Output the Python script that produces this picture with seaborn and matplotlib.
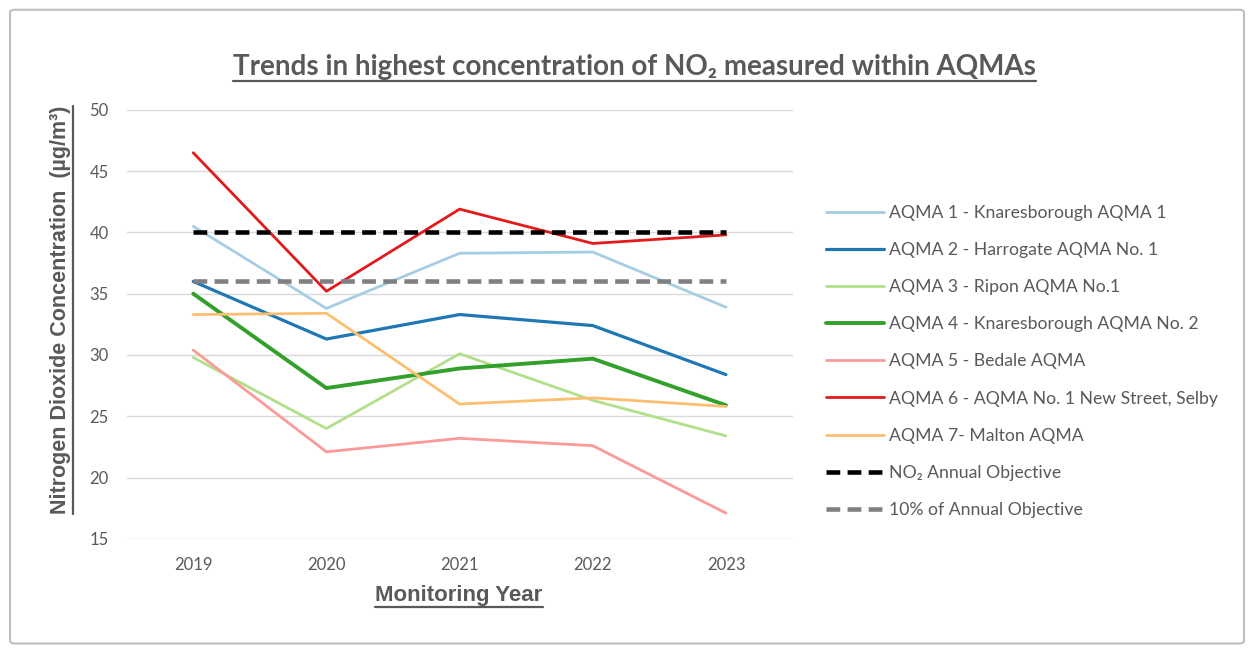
import pandas as pd
import seaborn as sns
import matplotlib.pyplot as plt
from matplotlib.lines import Line2D
from matplotlib.patches import FancyBboxPatch

# data
years = ['2019', '2020', '2021', '2022', '2023']
aqma_names = [
    'AQMA 1 - Knaresborough AQMA 1',
    'AQMA 2 - Harrogate AQMA No. 1',
    'AQMA 3 - Ripon AQMA No.1',
    'AQMA 4 - Knaresborough AQMA No. 2',
    'AQMA 5 - Bedale AQMA',
    'AQMA 6 - AQMA No. 1 New Street, Selby',
    'AQMA 7- Malton AQMA',
]
aqma1 = [40.5, 33.8, 38.3, 38.4, 33.9]
aqma2 = [36.0, 31.3, 33.3, 32.4, 28.4]
aqma3 = [29.8, 24.0, 30.1, 26.3, 23.4]
aqma4 = [35.0, 27.3, 28.9, 29.7, 25.9]
aqma5 = [30.4, 22.1, 23.2, 22.6, 17.1]
aqma6 = [46.5, 35.2, 41.9, 39.1, 39.8]
aqma7 = [33.3, 33.4, 26.0, 26.5, 25.8]
objective = [40, 40, 40, 40, 40]
objective_10 = [36, 36, 36, 36, 36]
objective_names = ['NO\u2082 Annual Objective', '10% of Annual Objective']

series = [aqma1, aqma2, aqma3, aqma4, aqma5, aqma6, aqma7]
colors = sns.color_palette('Paired', 7)
widths = [2.0, 2.3, 2.0, 2.8, 2.0, 2.0, 2.0]

sns.set_style('white')
plt.rcParams['font.family'] = ['Lato', 'DejaVu Sans']
grey = '#595959'

fig = plt.figure(figsize=(12.54, 6.5), dpi=100)
ax = fig.add_axes([0.101, 0.171, 0.531, 0.660])

for name, vals, c, w in zip(aqma_names, series, colors, widths):
    df = pd.DataFrame({'Year': years, 'Value': vals})
    sns.lineplot(data=df, x='Year', y='Value', color=c, lw=w, label=name, ax=ax)

for name, vals, c in zip(objective_names, [objective, objective_10], ['black', '#808080']):
    df = pd.DataFrame({'Year': years, 'Value': vals})
    sns.lineplot(data=df, x='Year', y='Value', color=c, lw=3.3, label=name, ax=ax,
                 dashes=False, linestyle=(0, (3, 1.6)))

ax.set_xlim(-0.5, 4.5)
ax.set_ylim(15, 50)
ax.set_yticks(range(15, 51, 5))
ax.grid(axis='y', color='#d9d9d9', lw=1)
ax.set_axisbelow(True)
for s in ax.spines.values():
    s.set_visible(False)
ax.tick_params(axis='both', length=0, labelsize=12, labelcolor=grey, pad=13)
ax.set_xlabel('')
ax.set_ylabel('')

leg = ax.legend(loc='upper left', bbox_to_anchor=(0.659, 0.685),
                bbox_transform=fig.transFigure, frameon=False, fontsize=12.7,
                handlelength=3.25, handletextpad=0.3, labelspacing=1.2,
                borderaxespad=0, borderpad=0)
for t in leg.get_texts():
    t.set_color(grey)

title = fig.text(0.506, 0.897, 'Trends in highest concentration of NO\u2082 measured within AQMAs',
                 ha='center', va='center', fontsize=20, fontweight='bold', color=grey)
ylab = fig.text(0.048, 0.523, 'Nitrogen Dioxide Concentration  (\u00b5g/m\u00b3)',
                ha='center', va='center', rotation=90, fontsize=15.5, fontweight='bold',
                color=grey, family=['Liberation Sans', 'DejaVu Sans'])
xlab = fig.text(0.366, 0.084, 'Monitoring Year', ha='center', va='center', fontsize=16,
                fontweight='bold', color=grey, family=['Liberation Sans', 'DejaVu Sans'])

# underlines under the three labels
fig.canvas.draw()
r = fig.canvas.get_renderer()
inv = fig.transFigure.inverted()
for t, vertical in [(title, False), (ylab, True), (xlab, False)]:
    bb = t.get_window_extent(r).transformed(inv)
    if vertical:
        fig.add_artist(Line2D([bb.x1 + 0.002] * 2, [bb.y0, bb.y1], color=grey, lw=1.6))
    else:
        fig.add_artist(Line2D([bb.x0, bb.x1], [bb.y0 - 0.002] * 2, color=grey, lw=1.6))

# outer frame of the chart area
fig.add_artist(FancyBboxPatch((0.008, 0.01), 0.984, 0.975, boxstyle='round,pad=0,rounding_size=0.004',
                              transform=fig.transFigure, fill=False, ec='#bfbfbf', lw=1.5))

plt.savefig('out.png', dpi=100)
